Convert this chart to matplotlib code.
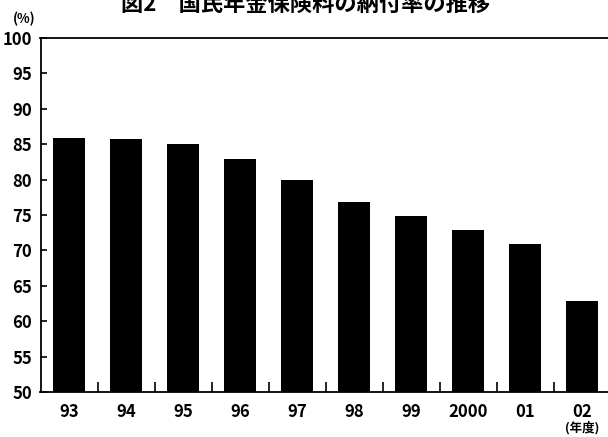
import matplotlib
matplotlib.use("Agg")
import matplotlib.pyplot as plt

plt.rcParams['font.family'] = ['Noto Sans CJK JP', 'DejaVu Sans']
plt.rcParams['font.weight'] = 'bold'

years = ["93", "94", "95", "96", "97", "98", "99", "2000", "01", "02"]
rates = [85.9, 85.8, 85.0, 82.9, 79.9, 76.9, 74.9, 72.9, 70.9, 62.8]
yticks = [50, 55, 60, 65, 70, 75, 80, 85, 90, 95, 100]

fig = plt.figure(figsize=(6.08, 4.37), dpi=100)
ax = fig.add_axes([40.5/608, 1 - 392/437, 570/608, (392 - 38)/437])

x = list(range(len(years)))
ax.bar(x, rates, width=0.55, color="black", zorder=2)

ax.set_xlim(-0.5, len(years) - 0.5)
ax.set_ylim(50, 100)
ax.set_yticks(yticks)
ax.set_yticklabels([str(v) for v in yticks], fontsize=12, fontweight='bold')
ax.set_xticks(x)
ax.set_xticklabels(years, fontsize=12, fontweight='bold')
ax.set_xticks([i + 0.5 for i in x[:-1]], minor=True)

ax.tick_params(axis='y', direction='in', length=4, width=1.2, pad=6)
ax.tick_params(axis='x', which='major', length=0, pad=8)
ax.tick_params(axis='x', which='minor', direction='in', length=7, width=1.2)

for s in ax.spines.values():
    s.set_linewidth(1.3)

# title is partly cut off at the top in the reference
fig.text(306/608, 1 - 4/437, "図2　国民年金保険料の納付率の推移",
         ha='center', va='center', fontsize=16, fontweight='bold')
fig.text(24/608, 1 - 19/437, "(%)", ha='center', va='center',
         fontsize=9.5, fontweight='bold')
fig.text(582/608, 1 - 428/437, "(年度)", ha='center', va='center',
         fontsize=9, fontweight='bold')

fig.savefig("out.png", dpi=100)
